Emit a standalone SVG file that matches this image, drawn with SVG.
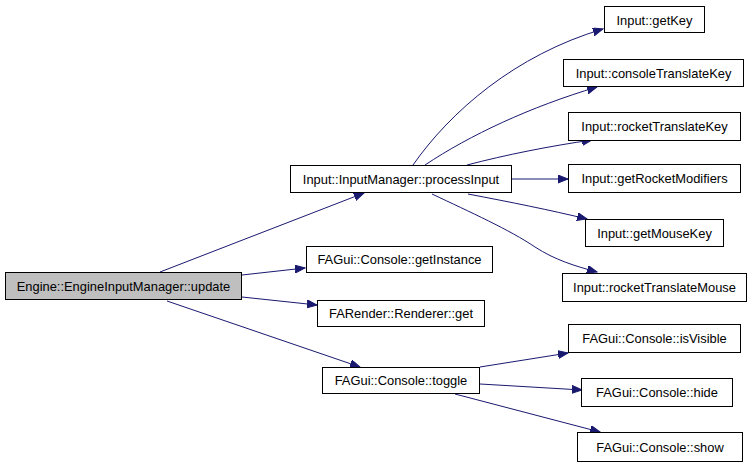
<svg xmlns="http://www.w3.org/2000/svg" width="755" height="467" viewBox="0 0 755 467">
<style>
.n rect{fill:#fff;stroke:#000;stroke-width:1}
.n text{font-family:"Liberation Sans",Arial,sans-serif;font-size:12.9px;text-anchor:middle;fill:#000}
.e path{fill:none;stroke:#191970;stroke-width:1}
</style>
<defs>
<marker id="a" markerUnits="userSpaceOnUse" markerWidth="12" markerHeight="10" refX="10" refY="4" orient="auto">
<path d="M0,0 L10,4 L0,8 Z" fill="#191970" stroke="#191970" stroke-width="1"/>
</marker>
</defs>
<rect width="755" height="467" fill="#fff"/>
<g class="e">
<path d="M160,272 L364,193" marker-end="url(#a)"/>
<path d="M242,275 L305,268" marker-end="url(#a)"/>
<path d="M242,297 L317,305" marker-end="url(#a)"/>
<path d="M167,301 L360,367" marker-end="url(#a)"/>
<path d="M413,165 C450,112 515,55 603,29" marker-end="url(#a)"/>
<path d="M425,165 C470,135 530,107 597,87" marker-end="url(#a)"/>
<path d="M467,165 C505,155 550,146 592,140" marker-end="url(#a)"/>
<path d="M512,179 L568,179" marker-end="url(#a)"/>
<path d="M468,194 C510,202 550,210 587,219" marker-end="url(#a)"/>
<path d="M432,194 C470,212 510,230 535,247 C555,260 575,266 597,272" marker-end="url(#a)"/>
<path d="M480,367 L568,353" marker-end="url(#a)"/>
<path d="M480,384 L582,390" marker-end="url(#a)"/>
<path d="M455,394 L600,432" marker-end="url(#a)"/>
</g>
<g id="n0" class="n"><rect x="5.5" y="272.5" width="236" height="27" style="fill:#bfbfbf"/><text x="123.5" y="290.5">Engine::EngineInputManager::update</text></g>
<g id="n1" class="n"><rect x="290.5" y="165.5" width="221" height="27"/><text x="401" y="183.5">Input::InputManager::processInput</text></g>
<g id="n2" class="n"><rect x="604.5" y="6.5" width="100" height="26"/><text x="654.5" y="24.5">Input::getKey</text></g>
<g id="n3" class="n"><rect x="563.5" y="59.5" width="180" height="27"/><text x="653.5" y="77.5">Input::consoleTranslateKey</text></g>
<g id="n4" class="n"><rect x="568.5" y="112.5" width="172" height="28"/><text x="654.5" y="131">Input::rocketTranslateKey</text></g>
<g id="n5" class="n"><rect x="568.5" y="164.5" width="172" height="28"/><text x="654.5" y="183">Input::getRocketModifiers</text></g>
<g id="n6" class="n"><rect x="585.5" y="219.5" width="138" height="27"/><text x="654.5" y="237.5">Input::getMouseKey</text></g>
<g id="n7" class="n"><rect x="562.5" y="273.5" width="184" height="28"/><text x="654.5" y="292">Input::rocketTranslateMouse</text></g>
<g id="n8" class="n"><rect x="306.5" y="246.5" width="186" height="26"/><text x="399.5" y="264">FAGui::Console::getInstance</text></g>
<g id="n9" class="n"><rect x="317.5" y="300.5" width="167" height="26"/><text x="401" y="318">FARender::Renderer::get</text></g>
<g id="n10" class="n"><rect x="322.5" y="367.5" width="157" height="26"/><text x="401" y="385">FAGui::Console::toggle</text></g>
<g id="n11" class="n"><rect x="568.5" y="324.5" width="172" height="28"/><text x="654.5" y="343">FAGui::Console::isVisible</text></g>
<g id="n12" class="n"><rect x="581.5" y="378.5" width="151" height="28"/><text x="657" y="397">FAGui::Console::hide</text></g>
<g id="n13" class="n"><rect x="577.5" y="432.5" width="165" height="29"/><text x="660" y="451.5">FAGui::Console::show</text></g>
</svg>
